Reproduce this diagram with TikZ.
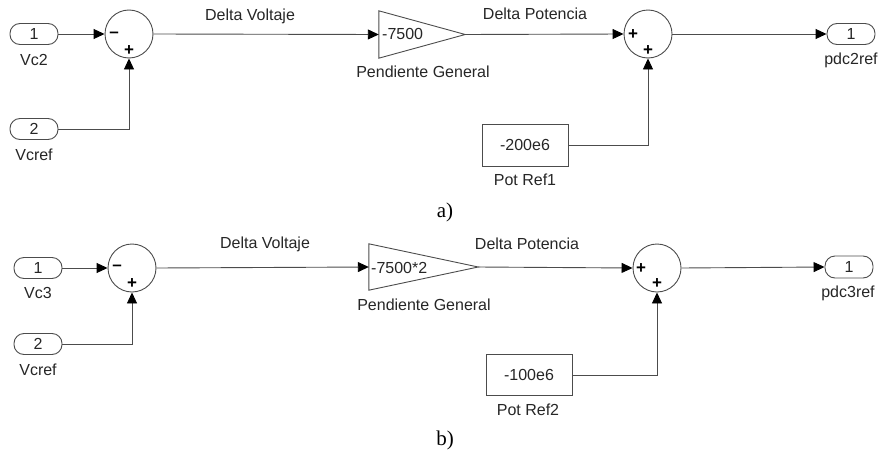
\documentclass[tikz,border=0pt]{standalone}
\usepackage{fontspec}
\setmainfont{Liberation Sans}
\newfontfamily\serifl{Liberation Serif}
\usetikzlibrary{arrows.meta}
\begin{document}
\begin{tikzpicture}[x=1pt,y=-1pt,
  ln/.style={draw=black!70, line width=0.9pt},
  arr/.style={ln,-{Triangle[length=11pt,width=10pt,fill=black,color=black]}},
  txt/.style={font=\fontsize{16}{18}\selectfont, text=black!85, inner sep=0pt},
  port/.style={txt, draw=black!70, line width=0.9pt, rounded corners=10pt, minimum width=48pt, minimum height=21pt},
  sumb/.style={circle, draw=black!70, line width=0.9pt, minimum size=48pt, inner sep=0pt},
  cst/.style={txt, draw=black!70, line width=0.9pt, minimum width=86pt, minimum height=42pt},
  gainb/.style={inner sep=0pt, minimum width=86pt, minimum height=47pt},
  sgn/.style={font=\bfseries\fontsize{17}{17}\selectfont, inner sep=0pt},
  captxt/.style={font=\serifl\fontsize{21}{23}\selectfont, inner sep=0pt},
]
\useasboundingbox (0,0) rectangle (878,455);
% ---------------- a) ----------------
\node[port] (p1) at (34,34) {1};
\node[txt] (p1l) at (34,60) {Vc2};
\node[port] (p2) at (34,129) {2};
\node[txt] (p2l) at (34,155) {Vcref};
\node[sumb] (s1) at (129,34) {};
\node[sgn] (s1m) at (114,35) {–};
\node[sgn] (s1p) at (129,51) {+};
\node[gainb] (g1) at (422,34.5) {};
\draw[ln] (g1.north west) -- (g1.east) -- (g1.south west) -- cycle;
\node[txt, anchor=west] (g1t) at (382,34) {-7500};
\node[txt] (g1l) at (423,72) {Pendiente General};
\node[txt] (dv1) at (250,16) {Delta Voltaje};
\node[txt] (dp1) at (535,14) {Delta Potencia};
\node[sumb] (s2) at (648,34) {};
\node[sgn] (s2a) at (633,35) {+};
\node[sgn] (s2b) at (648,51) {+};
\node[cst] (c1) at (525,145) {-200e6};
\node[txt] (c1l) at (525,180) {Pot Ref1};
\node[port] (o1) at (851,34) {1};
\node[txt] (o1l) at (851,60) {pdc2ref};
\node[captxt] (capa) at (445,212) {a)};
\draw[arr] (p1.east) -- (s1.west);
\draw[arr] (p2.east) -| (s1.south);
\draw[arr] (s1.east) -- (g1.west);
\draw[arr] (g1.east) -- (s2.west);
\draw[arr] (c1.east) -| (s2.south);
\draw[arr] (s2.east) -- (o1.west);
% ---------------- b) ----------------
\node[port] (q1) at (38,268) {1};
\node[txt] (q1l) at (38,293) {Vc3};
\node[port] (q2) at (38,344) {2};
\node[txt] (q2l) at (38,370) {Vcref};
\node[sumb] (t1) at (132,268) {};
\node[sgn] (t1m) at (117,268) {–};
\node[sgn] (t1p) at (132,284) {+};
\node[gainb, minimum width=109pt, minimum height=46pt] (h1) at (423.5,267) {};
\draw[ln] (h1.north west) -- (h1.east) -- (h1.south west) -- cycle;
\node[txt, anchor=west] (h1t) at (371,268) {-7500*2};
\node[txt] (h1l) at (424,305) {Pendiente General};
\node[txt] (dv2) at (265,244) {Delta Voltaje};
\node[txt] (dp2) at (527,244) {Delta Potencia};
\node[sumb] (t2) at (657,268) {};
\node[sgn] (t2a) at (641,269) {+};
\node[sgn] (t2b) at (657,284) {+};
\node[cst, minimum height=41pt] (d1) at (529,375) {-100e6};
\node[txt] (d1l) at (528,410) {Pot Ref2};
\node[port, minimum height=22pt] (r1) at (849,267) {1};
\node[txt] (r1l) at (848,293) {pdc3ref};
\node[captxt] (capb) at (445,440) {b)};
\draw[arr] (q1.east) -- (t1.west);
\draw[arr] (q2.east) -| (t1.south);
\draw[arr] (t1.east) -- (h1.west);
\draw[arr] (h1.east) -- (t2.west);
\draw[arr] (d1.east) -| (t2.south);
\draw[arr] (t2.east) -- (r1.west);
\end{tikzpicture}
\end{document}
